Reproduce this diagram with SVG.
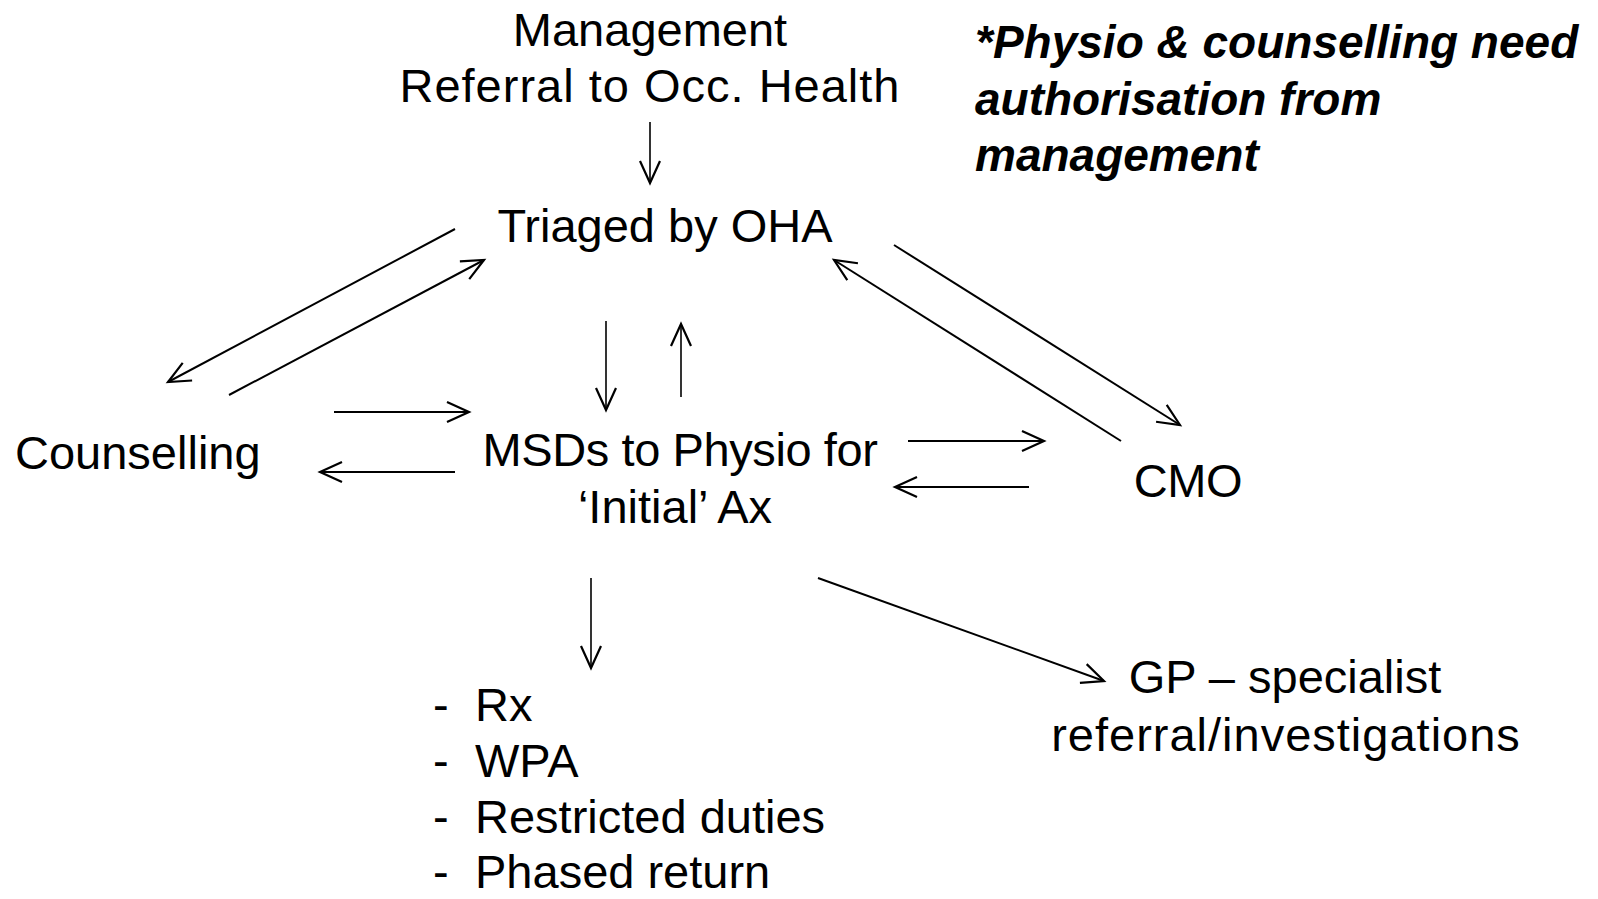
<svg xmlns="http://www.w3.org/2000/svg" width="1598" height="899" viewBox="0 0 1598 899">
<style>
text{font-family:"Liberation Sans",Arial,sans-serif;font-size:47px;fill:#000}
.c{text-anchor:middle}
.w{letter-spacing:1px}
.n{letter-spacing:-0.4px}
.note{font-style:italic;font-weight:bold;font-size:46px}
.ln{stroke:#000;stroke-width:2;fill:none;marker-end:url(#ah)}
.thin{stroke-width:1.6}
</style>
<defs>
<marker id="ah" markerUnits="userSpaceOnUse" viewBox="-26 -13 29 26" markerWidth="29" markerHeight="26" refX="0" refY="0" orient="auto" overflow="visible">
<path d="M-22,-10 L0,0 L-22,10" fill="none" stroke="#000" stroke-width="2.2"/>
</marker>
</defs>
<rect width="1598" height="899" fill="#fff"/>
<g id="referral"><text class="c" x="650" y="46">Management</text><text class="c w" x="650" y="102">Referral to Occ. Health</text></g>
<g id="note"><text class="note" x="975" y="58">*Physio &amp; counselling need</text><text class="note" x="975" y="115">authorisation from</text><text class="note" x="975" y="171">management</text></g>
<g id="triaged"><text class="c" x="665" y="242">Triaged by OHA</text></g>
<g id="counselling"><text x="15" y="469">Counselling</text></g>
<g id="msds"><text class="c n" x="680" y="466">MSDs to Physio for</text><text class="c" x="675" y="523">‘Initial’ Ax</text></g>
<g id="cmo"><text class="c n" x="1188" y="497">CMO</text></g>
<g id="gp"><text class="c" x="1285" y="693">GP – specialist</text><text class="c w" x="1286" y="751">referral/investigations</text></g>
<g id="outcomes">
<text x="433" y="721">-</text><text x="475" y="721">Rx</text>
<text x="433" y="777">-</text><text x="475" y="777">WPA</text>
<text x="433" y="833">-</text><text x="475" y="833">Restricted duties</text>
<text x="433" y="888">-</text><text x="475" y="888">Phased return</text>
</g>
<g id="connectors">
<line class="ln thin" x1="650" y1="122" x2="650" y2="183"/>
<line class="ln" x1="455" y1="229" x2="168" y2="382"/>
<line class="ln" x1="229" y1="395" x2="484" y2="260"/>
<line class="ln thin" x1="606" y1="321" x2="606" y2="410"/>
<line class="ln thin" x1="681" y1="397" x2="681" y2="324"/>
<line class="ln" x1="334" y1="412" x2="469" y2="412"/>
<line class="ln" x1="455" y1="472" x2="320" y2="472"/>
<line class="ln" x1="908" y1="441" x2="1044" y2="441"/>
<line class="ln" x1="1029" y1="487" x2="895" y2="487"/>
<line class="ln" x1="894" y1="245" x2="1180" y2="425"/>
<line class="ln" x1="1121" y1="441" x2="834" y2="260"/>
<line class="ln thin" x1="591" y1="578" x2="591" y2="668"/>
<line class="ln" x1="818" y1="578" x2="1104" y2="681"/>
</g>
</svg>
